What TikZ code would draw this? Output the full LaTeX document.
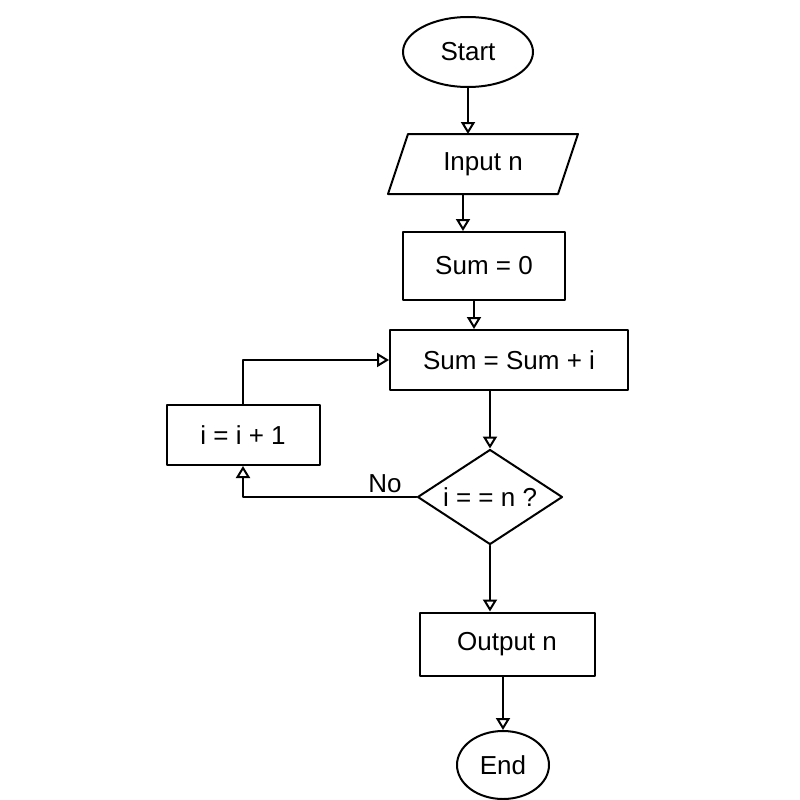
\documentclass[tikz,border=0pt]{standalone}
\usepackage{fontspec}
\setmainfont{Liberation Sans}
\usetikzlibrary{shapes.geometric,arrows.meta}
\begin{document}
\begin{tikzpicture}[x=1pt,y=-1pt,line width=2pt,line join=round,line cap=round,
  every node/.style={font=\fontsize{26}{30}\selectfont},
  box/.style={draw,rectangle,inner sep=0pt},
  term/.style={draw,ellipse,inner sep=0pt},
  io/.style={rectangle,inner sep=0pt},
  decision/.style={draw,diamond,aspect=1.6,inner sep=0pt},
  arr/.style={-{Triangle[open,length=12pt,width=14pt]}}]
\useasboundingbox (0,0) rectangle (800,800);

% terminals, steps and the test
\node[term,minimum width=130pt,minimum height=70pt] (start) at (468,52) {Start};
\node[io,minimum width=168pt,minimum height=58pt] (input) at (483,164) {Input n};
\draw ([xshift=10pt]input.north west) -- ([xshift=10pt]input.north east)
   -- ([xshift=-10pt]input.south east) -- ([xshift=-10pt]input.south west) -- cycle;
\node[box,minimum width=162pt,minimum height=68pt] (init) at (484,266) {Sum = 0};
\node[box,minimum width=238pt,minimum height=60pt] (sum) at (509,360) {Sum = Sum + i};
\node[box,minimum width=153pt,minimum height=60pt] (inc) at (243,435) {i = i + 1};
\node[decision,minimum width=145pt,minimum height=95pt] (test) at (490,497) {i = = n ?};
\node[box,minimum width=175pt,minimum height=63pt] (out) at (507,644) {Output n};
\node[term,minimum width=92pt,minimum height=68pt] (end) at (503,765) {End};

% connectors
\draw[arr] (start.south) -- (start.south |- input.north);
\draw[arr] (input.south -| 463,0) -- (init.north -| 463,0);
\draw[arr] (init.south -| 474,0) -- (sum.north -| 474,0);
\draw[arr] (sum.south -| test.north) -- (test.north);
\draw[arr] (test.south) -- (test.south |- out.north);
\draw[arr] (out.south -| end.north) -- (end.north);
\draw[arr] (test.west) -- (test.west -| inc.south) -- (inc.south);
\draw[arr] (inc.north) |- (sum.west);
\node (no) at (385,484) {No};
\end{tikzpicture}
\end{document}
